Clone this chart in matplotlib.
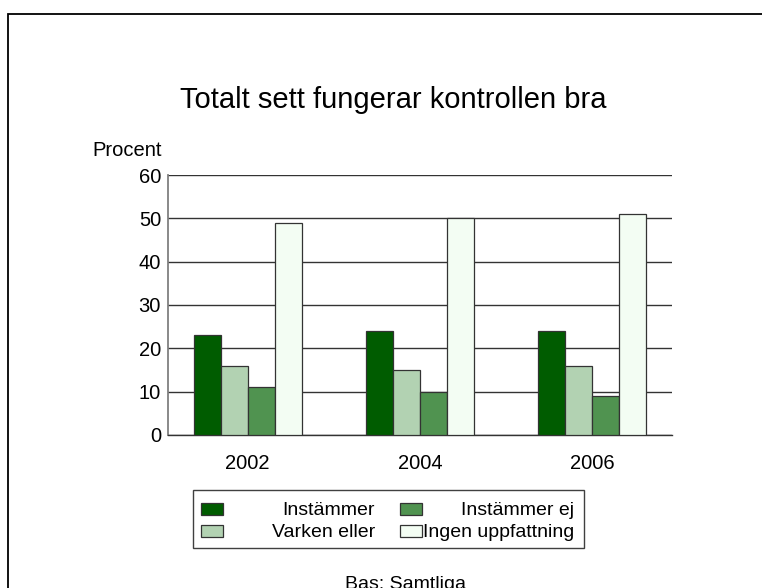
import matplotlib
matplotlib.use("Agg")
import matplotlib.pyplot as plt
from matplotlib.patches import Rectangle
import numpy as np

plt.rcParams['font.family'] = ['Liberation Sans', 'DejaVu Sans']

years = ["2002", "2004", "2006"]
series = ["Instämmer", "Varken eller", "Instämmer ej", "Ingen uppfattning"]
instammer = [23, 24, 24]
varken_eller = [16, 15, 16]
instammer_ej = [11, 10, 9]
ingen_uppfattning = [49, 50, 51]
values = [instammer, varken_eller, instammer_ej, ingen_uppfattning]
colors = ["#005c00", "#b2d2b2", "#509350", "#f3fdf3"]
yticks = [0, 10, 20, 30, 40, 50, 60]

W, H = 762, 588
fig = plt.figure(figsize=(W / 100, H / 100), dpi=100)
fig.patch.set_facecolor("white")

def fx(px):
    return px / W

def fy(py):
    return 1 - py / H

ax = fig.add_axes([fx(168), fy(435), fx(672) - fx(168), fy(175) - fy(435)])
x = np.arange(len(years))
bw = 0.1565
for i, (vals, col) in enumerate(zip(values, colors)):
    ax.bar(x + (i - 1.5) * bw, vals, width=bw, color=col, edgecolor="#333333",
           linewidth=0.9, zorder=3, label=series[i])

ax.set_xlim(-0.461, 2.461)
ax.set_ylim(0, 60)
ax.set_yticks(yticks)
ax.set_yticklabels([str(t) for t in yticks])
ax.set_xticks(x)
ax.set_xticklabels(years)
ax.tick_params(axis='both', length=0, labelsize=14.5, colors='black')
ax.tick_params(axis='y', pad=5)
ax.tick_params(axis='x', pad=14)
ax.yaxis.grid(True, color="#333333", linewidth=1.0, zorder=0)
ax.set_axisbelow(True)
for s in ["top", "right"]:
    ax.spines[s].set_visible(False)
ax.spines["left"].set_color("#808080")
ax.spines["left"].set_linewidth(1.3)
ax.spines["bottom"].set_color("#333333")
ax.spines["bottom"].set_linewidth(1.0)

# Title and axis label
fig.text(fx(393.5), fy(108), "Totalt sett fungerar kontrollen bra", ha='center',
         va='baseline', fontsize=21)
fig.text(fx(92), fy(156), "Procent", ha='left', va='baseline', fontsize=14.5)

# Legend (manual, right-aligned labels)
fig.patches.append(Rectangle((fx(193), fy(548)), fx(584) - fx(193), fy(490) - fy(548),
                             transform=fig.transFigure, fill=False,
                             edgecolor="#404040", linewidth=1.0))
patch_x = [201, 201, 400, 400]
text_right = [375, 375, 574, 574]
row_base = [515, 537, 515, 537]
for i in range(4):
    fig.patches.append(Rectangle((fx(patch_x[i]), fy(row_base[i])), fx(22), 12 / H,
                                 transform=fig.transFigure, facecolor=colors[i],
                                 edgecolor="#333333", linewidth=0.9))
    fig.text(fx(text_right[i]), fy(row_base[i]), series[i], ha='right',
             va='baseline', fontsize=14)

# Footer
fig.text(fx(405), fy(576), "Bas: Samtliga", ha='center', va='top', fontsize=14)

# Outer frame
fig.patches.append(Rectangle((fx(8), -0.05), 1.1, fy(13.5) + 0.05,
                             transform=fig.transFigure, fill=False,
                             edgecolor="black", linewidth=1.3))

fig.savefig("out.png", dpi=100)
